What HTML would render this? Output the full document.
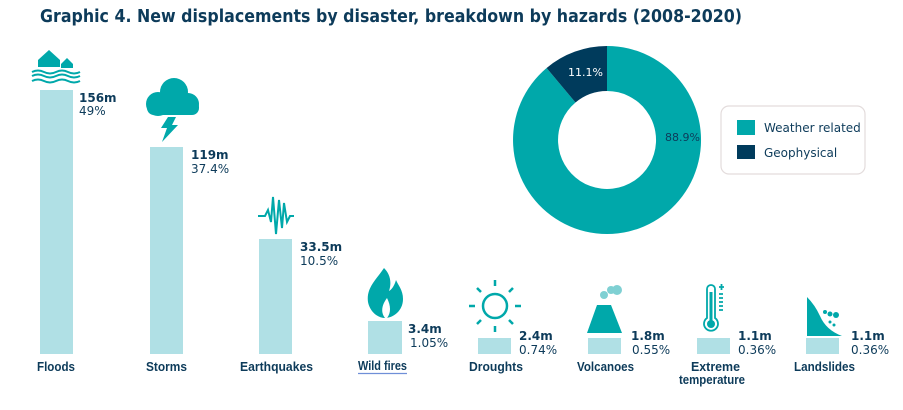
<!DOCTYPE html>
<html><head><meta charset="utf-8"><style>
html,body{margin:0;padding:0;background:#fff;}
svg{display:block;}
text{font-family:"DejaVu Sans","Liberation Sans",sans-serif;fill:#0d3b5a;}
.v{font-weight:bold;font-size:12px;}
.p{font-size:12px;}
.l{font-weight:bold;font-size:13px;font-family:"Liberation Sans",sans-serif;}
</style></head><body>
<svg width="903" height="410" viewBox="0 0 903 410" xmlns="http://www.w3.org/2000/svg">
<text x="40" y="22" font-size="17.5" font-weight="bold" textLength="702" lengthAdjust="spacingAndGlyphs">Graphic 4. New displacements by disaster, breakdown by hazards (2008-2020)</text>

<g fill="#b0e0e5">
<rect x="40" y="90" width="33" height="264"/>
<rect x="150" y="147" width="33" height="207"/>
<rect x="259" y="239" width="33" height="115"/>
<rect x="368" y="321" width="34" height="33"/>
<rect x="478" y="338" width="33" height="16"/>
<rect x="588" y="338" width="33" height="16"/>
<rect x="697" y="338" width="33" height="16"/>
<rect x="806" y="338" width="33" height="16"/>
</g>

<text class="v" x="79" y="102">156m</text><text class="p" x="79" y="115">49%</text>
<text class="v" x="191" y="159">119m</text><text class="p" x="191" y="173">37.4%</text>
<text class="v" x="300" y="251">33.5m</text><text class="p" x="300" y="265">10.5%</text>
<text class="v" x="408" y="333">3.4m</text><text class="p" x="410" y="347">1.05%</text>
<text class="v" x="519" y="340">2.4m</text><text class="p" x="519" y="354">0.74%</text>
<text class="v" x="631" y="340">1.8m</text><text class="p" x="632" y="354">0.55%</text>
<text class="v" x="738" y="340">1.1m</text><text class="p" x="738" y="354">0.36%</text>
<text class="v" x="851" y="340">1.1m</text><text class="p" x="851" y="354">0.36%</text>

<text class="l" x="37" y="371" textLength="38" lengthAdjust="spacingAndGlyphs">Floods</text>
<text class="l" x="146" y="371" textLength="41" lengthAdjust="spacingAndGlyphs">Storms</text>
<text class="l" x="240" y="371" textLength="73" lengthAdjust="spacingAndGlyphs">Earthquakes</text>
<text class="l" x="358" y="370" font-size="11" textLength="49" lengthAdjust="spacingAndGlyphs">Wild fires</text>
<line x1="358" y1="373.5" x2="407" y2="373.5" stroke="#6f8fd8" stroke-width="1.2"/>
<text class="l" x="469" y="371" textLength="54" lengthAdjust="spacingAndGlyphs">Droughts</text>
<text class="l" x="577" y="371" textLength="57" lengthAdjust="spacingAndGlyphs">Volcanoes</text>
<text class="l" x="691" y="371" textLength="49" lengthAdjust="spacingAndGlyphs">Extreme</text>
<text class="l" x="679" y="384" textLength="66" lengthAdjust="spacingAndGlyphs">temperature</text>
<text class="l" x="794" y="371" textLength="61" lengthAdjust="spacingAndGlyphs">Landslides</text>

<g fill="#00a8aa" stroke="none">
<path d="M38 60 L49 50 L60 60 L60 67 L38 67Z"/>
<path d="M61 64 L67 58 L73 64 L73 68 L61 68Z"/>
<g fill="none" stroke="#00a8aa" stroke-width="2">
<path d="M32 72 q6 -3 12 0 t12 0 t12 0 t12 0"/>
<path d="M32 76 q6 -3 12 0 t12 0 t12 0 t12 0"/>
<path d="M32 81 q6 -3 12 0 t12 0 t12 0 t12 0"/>
</g>
<circle cx="158" cy="104" r="12"/><circle cx="174" cy="92" r="14"/><circle cx="188" cy="104" r="11"/>
<rect x="147" y="100" width="52" height="15" rx="7"/>
<path d="M168 117 L176 117 L172 125 L178 125 L162 142 L167 128 L161 128Z"/>
<path d="M258 216 L265 216 L268 210 L271 222 L273 197 L276 234 L279 200 L282 228 L284 203 L287 222 L290 216 L294 216" fill="none" stroke="#00a8aa" stroke-width="2"/>
<path d="M384 268 C376 280 366 288 368 302 C370 312 378 318 385 318 C393 318 403 311 403 299 C403 290 398 285 396 280 C394 287 391 290 389 291 C392 282 390 274 384 268Z"/>
<path d="M385 318 C381 313 381 306 387 298 C391 306 391 313 387 318Z" fill="#fff"/>
<path d="M587 333 L597 305 L611 305 L622 333Z"/>
<circle cx="604" cy="295" r="4" fill="#7fd0d3"/><circle cx="611" cy="290" r="4" fill="#7fd0d3"/><circle cx="617" cy="290" r="5" fill="#7fd0d3"/>
<path d="M807 297 L807 336 L842 336 Q826 330 820 316 Q815 305 807 297Z"/>
<circle cx="825" cy="312" r="2"/><circle cx="830" cy="314" r="2.5"/><circle cx="836" cy="315" r="3"/><circle cx="830" cy="322" r="1.5"/><circle cx="834" cy="325" r="1.5"/>
</g>
<g stroke="#00a8aa" stroke-width="2.5" fill="none">
<circle cx="495" cy="306" r="12"/>
<path d="M495 280v6M495 326v6M469 306h6M515 306h6M477 288l4 4M509 320l4 4M513 288l-4 4M481 320l-4 4"/>
</g>
<g stroke="#00a8aa" stroke-width="1.8" fill="none">
<path d="M707 289 a4 4 0 0 1 8 0 L715 318 a7 7 0 1 1 -8 0Z"/>
<path d="M719 287h5M721.5 284v6M719 294h4M719 298h4M719 302h4M719 306h4M719 310h4"/>
</g>
<circle cx="711" cy="324" r="4" fill="#00a8aa"/><rect x="709.5" y="292" width="3" height="31" fill="#00a8aa"/>

<path d="M607 46 A94 94 0 1 1 546.6 68 L575.5 102.5 A49 49 0 1 0 607 91Z" fill="#00a8aa"/>
<path d="M546.6 68 A94 94 0 0 1 607 46 L607 91 A49 49 0 0 0 575.5 102.5Z" fill="#003b5c"/>
<text x="568" y="76" font-size="11" style="fill:#fff">11.1%</text>
<text x="665" y="141" font-size="11" style="fill:#0d3b5a">88.9%</text>

<rect x="721" y="106" width="144" height="68" rx="8" fill="#fff" stroke="#e3dcdc" stroke-width="1.2"/>
<rect x="737" y="120" width="18" height="15" fill="#00a8aa"/>
<rect x="737" y="145" width="18" height="14" fill="#003b5c"/>
<text x="764" y="132" font-size="12">Weather related</text>
<text x="764" y="157" font-size="12">Geophysical</text>
</svg>
</body></html>
